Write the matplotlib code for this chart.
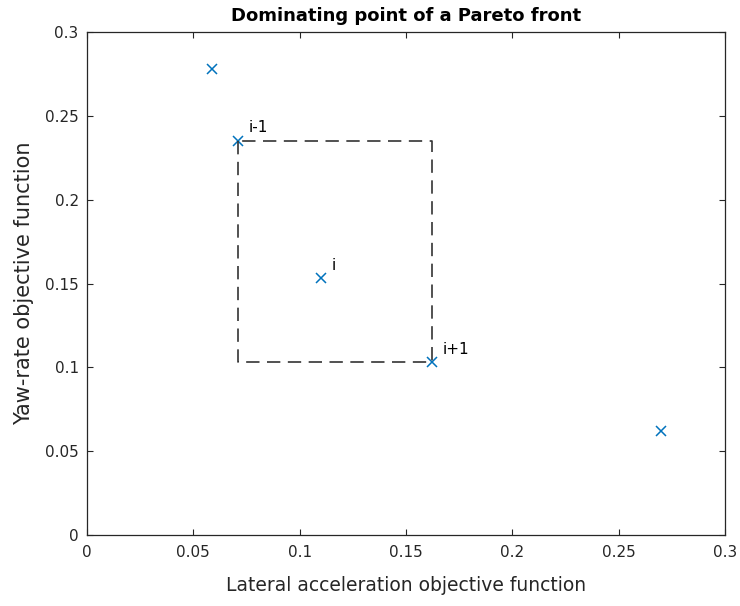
import matplotlib
matplotlib.use('Agg')
import matplotlib.pyplot as plt

# Pareto front points (lateral acceleration, yaw-rate)
lat_acc = [0.059, 0.071, 0.110, 0.162, 0.270]
yaw_rate = [0.278, 0.235, 0.153, 0.103, 0.062]
point_labels = ['', 'i-1', 'i', 'i+1', '']
idx_i = 2

x_ticks = [0, 0.05, 0.1, 0.15, 0.2, 0.25, 0.3]
y_ticks = [0, 0.05, 0.1, 0.15, 0.2, 0.25, 0.3]
tick_text = ['0', '0.05', '0.1', '0.15', '0.2', '0.25', '0.3']

plt.rcParams['font.family'] = ['DejaVu Sans']
axis_color = '#262626'

fig = plt.figure(figsize=(7.4, 6.06), dpi=100)
# axes box: x 87..725 px, y 32..535 px
ax = fig.add_axes([87 / 740, 71 / 606, 638 / 740, 503 / 606])

ax.plot(lat_acc, yaw_rate, 'x', color='#0072BD', markersize=7, markeredgewidth=1.1,
        linestyle='none')

# box spanned by neighbours i-1 and i+1
x_lo, x_hi = lat_acc[idx_i - 1], lat_acc[idx_i + 1]
y_lo, y_hi = yaw_rate[idx_i + 1], yaw_rate[idx_i - 1]
box_line, = ax.plot([x_lo, x_lo, x_hi, x_hi, x_lo], [y_hi, y_lo, y_lo, y_hi, y_hi],
                    color='#333333', linewidth=1.2)
box_line.set_dashes([8, 4.5])

for x, y, lab in zip(lat_acc, yaw_rate, point_labels):
    if lab:
        ax.annotate(lab, (x, y), xytext=(8, 9.5), textcoords='offset points',
                    ha='left', va='center', fontsize=11, color='black')

ax.set_xlim(0, 0.3)
ax.set_ylim(0, 0.3)
ax.set_xticks(x_ticks)
ax.set_yticks(y_ticks)
ax.set_xticklabels(tick_text)
ax.set_yticklabels(tick_text)
ax.tick_params(direction='in', length=4, width=0.8, top=True, right=True,
               colors=axis_color, labelsize=11)
ax.tick_params(axis='x', pad=7)
ax.tick_params(axis='y', pad=6)
for s in ax.spines.values():
    s.set_color(axis_color)
    s.set_linewidth(0.9)

ax.set_xlabel('Lateral acceleration objective function', fontsize=13.5, color=axis_color,
              labelpad=12)
ax.set_ylabel('Yaw-rate objective function', fontsize=15, color=axis_color, labelpad=8)
ax.set_title('Dominating point of a Pareto front', fontsize=13, fontweight='bold',
             color='black', pad=8)

fig.savefig('out.png', dpi=100)
